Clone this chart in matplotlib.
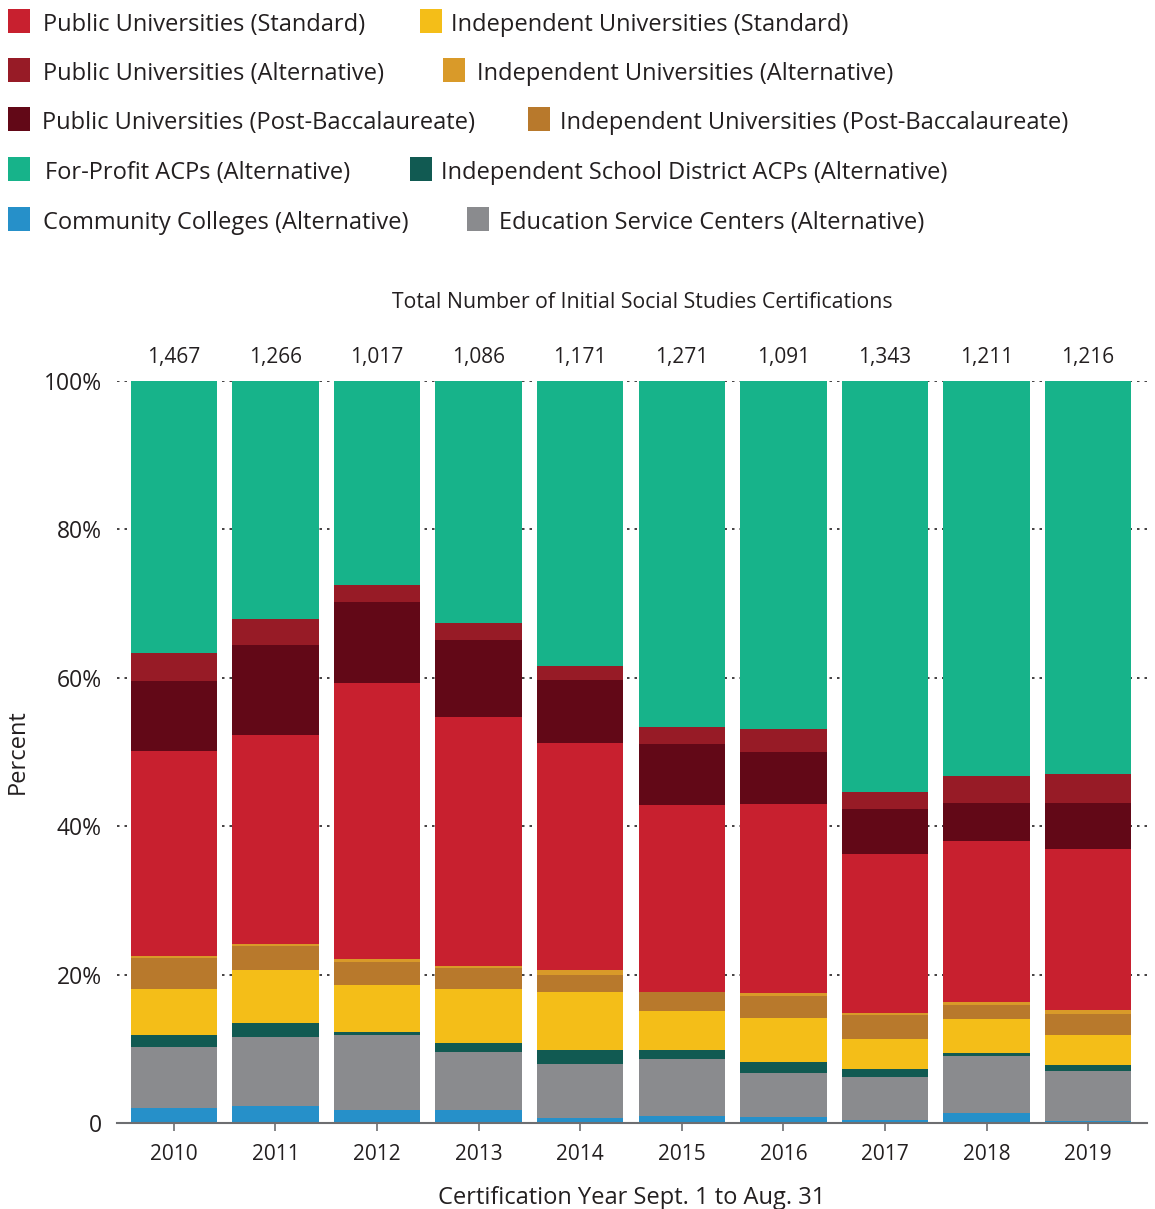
import matplotlib
matplotlib.use("Agg")
import matplotlib.pyplot as plt
from matplotlib.patches import Rectangle
from matplotlib.transforms import blended_transform_factory
import numpy as np

plt.rcParams['font.family'] = ['Open Sans', 'DejaVu Sans']

years = ['2010', '2011', '2012', '2013', '2014', '2015', '2016', '2017', '2018', '2019']
totals = ['1,467', '1,266', '1,017', '1,086', '1,171', '1,271', '1,091', '1,343', '1,211', '1,216']

# percent shares, stacked bottom to top
community_colleges = [2.0, 2.3, 1.75, 1.75, 0.7, 0.9, 0.8, 0.4, 1.35, 0.3]
edu_service_centers = [8.2, 9.3, 10.1, 7.8, 7.3, 7.7, 5.9, 5.8, 7.65, 6.7]
isd_acps = [1.6, 1.9, 0.4, 1.2, 1.8, 1.2, 1.5, 1.1, 0.4, 0.8]
indep_standard = [6.3, 7.1, 6.3, 7.3, 7.85, 5.3, 5.95, 4.0, 4.6, 4.06]
indep_postbacc = [4.1, 3.25, 3.2, 2.9, 2.25, 2.55, 2.95, 3.25, 1.9, 2.84]
indep_alternative = [0.3, 0.3, 0.3, 0.2, 0.7, 0.0, 0.4, 0.25, 0.4, 0.5]
public_standard = [27.7, 28.2, 37.3, 33.5, 30.6, 25.2, 25.5, 21.45, 21.7, 21.7]
public_postbacc = [9.4, 12.1, 10.8, 10.4, 8.5, 8.2, 7.0, 6.05, 5.1, 6.2]
public_alternative = [3.8, 3.5, 2.4, 2.4, 1.9, 2.3, 3.1, 2.3, 3.7, 3.9]
for_profit = [36.6, 32.05, 27.45, 32.55, 38.4, 46.65, 46.9, 55.4, 53.2, 53.0]

series = [
    ("Community Colleges (Alternative)", community_colleges, "#2690C9"),
    ("Education Service Centers (Alternative)", edu_service_centers, "#8A8B8E"),
    ("Independent School District ACPs (Alternative)", isd_acps, "#115A52"),
    ("Independent Universities (Standard)", indep_standard, "#F4BE18"),
    ("Independent Universities (Post-Baccalaureate)", indep_postbacc, "#B8792C"),
    ("Independent Universities (Alternative)", indep_alternative, "#D99A29"),
    ("Public Universities (Standard)", public_standard, "#C8202F"),
    ("Public Universities (Post-Baccalaureate)", public_postbacc, "#620817"),
    ("Public Universities (Alternative)", public_alternative, "#971B26"),
    ("For-Profit ACPs (Alternative)", for_profit, "#17B38A"),
]
colors = {name: c for name, _, c in series}

W, H = 1155, 1209
fig = plt.figure(figsize=(W / 100, H / 100), dpi=100)
ax = fig.add_axes([117 / W, 1 - 1123 / H, (1147 - 117) / W, (1123 - 381) / H])

x = np.arange(len(years))
bottom = np.zeros(len(years))
for name, vals, c in series:
    v = np.array(vals, dtype=float)
    ax.bar(x, v, bottom=bottom, width=0.85, color=c, linewidth=0, zorder=2)
    bottom += v

ax.set_xlim(-0.56, 9.58)
ax.set_ylim(0, 100)
ax.set_yticks([0, 20, 40, 60, 80, 100])
ax.set_yticklabels(['0', '20%', '40%', '60%', '80%', '100%'], fontsize=16.5, color='#231F20')
for yv in [20, 40, 60, 80, 100]:
    ax.axhline(yv, color='#231F20', linestyle=(0, (1.5, 3)), linewidth=1.2, zorder=1)
ax.tick_params(axis='y', length=0, pad=11)
ax.set_xticks(x)
ax.set_xticklabels(years, fontsize=15, color='#231F20')
ax.tick_params(axis='x', length=6, width=1.2, color='#6d6e71', pad=9, direction='out')
for s in ['top', 'right', 'left']:
    ax.spines[s].set_visible(False)
ax.spines['bottom'].set_color('#6d6e71')
ax.spines['bottom'].set_linewidth(1.5)
ax.spines['bottom'].set_zorder(3)

ax.set_xlabel('Certification Year Sept. 1 to Aug. 31', fontsize=17, color='#231F20', labelpad=15)
ax.set_ylabel('Percent', fontsize=17, color='#231F20', labelpad=10)

tr = blended_transform_factory(ax.transData, fig.transFigure)
for xi, t in zip(x, totals):
    ax.text(xi, 1 - 357 / H, t, transform=tr, ha='center', va='center', fontsize=15, color='#231F20')
fig.text(642 / W, 1 - 302 / H, 'Total Number of Initial Social Studies Certifications',
         ha='center', va='center', fontsize=15.3, color='#231F20')

# legend, laid out like the original flowing legend
legend_rows = [
    [("Public Universities (Standard)", 8, 43), ("Independent Universities (Standard)", 420, 451)],
    [("Public Universities (Alternative)", 8, 43), ("Independent Universities (Alternative)", 443, 477)],
    [("Public Universities (Post-Baccalaureate)", 8, 42), ("Independent Universities (Post-Baccalaureate)", 528, 560)],
    [("For-Profit ACPs (Alternative)", 8, 45), ("Independent School District ACPs (Alternative)", 410, 441)],
    [("Community Colleges (Alternative)", 8, 43), ("Education Service Centers (Alternative)", 467, 499)],
]
row_y = [21, 70, 119, 169, 219]
for ry, row in zip(row_y, legend_rows):
    for name, px, tx in row:
        fig.patches.append(Rectangle((px / W, 1 - (ry + 12) / H), 22 / W, 24 / H,
                                     transform=fig.transFigure, color=colors[name], linewidth=0))
        fig.text(tx / W, 1 - (ry + 4) / H, name, ha='left', va='center', fontsize=17, color='#231F20')

fig.savefig('out.png', dpi=100)
